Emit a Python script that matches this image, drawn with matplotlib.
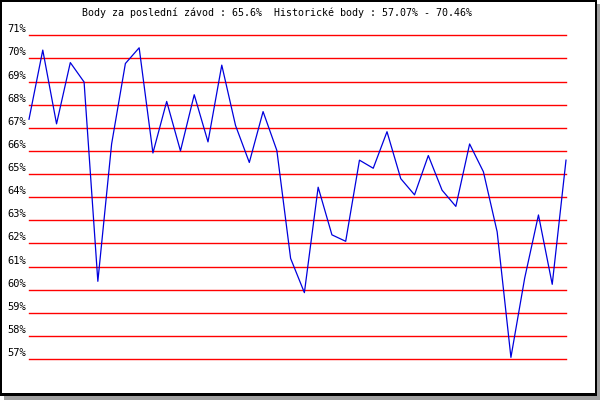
import matplotlib
matplotlib.use("Agg")
import matplotlib.pyplot as plt
from matplotlib.patches import Rectangle

# points per race
points = [67.37, 70.36, 67.17, 69.82, 68.98, 60.36, 66.3, 69.78, 70.46, 65.91,
          68.14, 66.0, 68.43, 66.39, 69.71, 67.1, 65.5, 67.7, 66.02, 61.35,
          59.87, 64.43, 62.37, 62.09, 65.6, 65.25, 66.83, 64.8, 64.1, 65.8,
          64.3, 63.6, 66.3, 65.1, 62.5, 57.07, 60.5, 63.23, 60.23, 65.6]
grid_levels = list(range(57, 72))
last_label = "Body za poslední závod"
hist_label = "Historické body"
last_value = 65.6
hist_min = 57.07
hist_max = 70.46

W, H = 600, 400
fig = plt.figure(figsize=(W / 100, H / 100), dpi=100)

# frame with drop shadow, in pixel coordinates
bg = fig.add_axes([0, 0, 1, 1])
bg.set_xlim(0, W)
bg.set_ylim(H, 0)
bg.axis("off")
bg.add_patch(Rectangle((4, 4), W - 4, H - 4, facecolor="#a0a0a0", edgecolor="none"))
bg.add_patch(Rectangle((0, 0), 597, 396, facecolor="black", edgecolor="none"))
bg.add_patch(Rectangle((2, 2), 593, 391, facecolor="white", edgecolor="none"))

title = f"{last_label} : {last_value}%  {hist_label} : {hist_min}% - {hist_max}%"
bg.text(277, 13, title, ha="center", va="center", fontsize=7.2,
        family="DejaVu Sans Mono", color="black")

# plot area
x0, x1 = 29, 566
y_top, y_bot = 35.3, 359
ax = fig.add_axes([x0 / W, (H - y_bot) / H, (x1 - x0) / W, (y_bot - y_top) / H])
ax.set_xlim(0, len(points) - 1)
ax.set_ylim(min(grid_levels), max(grid_levels))
ax.axis("off")

for lvl in grid_levels:
    ax.axhline(lvl, color="red", lw=1.0, zorder=1, clip_on=False)
    ax.annotate(f"{lvl}%", xy=(0, lvl), xycoords=("axes fraction", "data"),
                xytext=(-3, 1), textcoords="offset pixels", ha="right", va="bottom",
                fontsize=7.5, family="DejaVu Sans Mono", color="black")

ax.plot(range(len(points)), points, color="#0000dd", lw=0.9, zorder=2,
        clip_on=False)

fig.savefig("out.png", dpi=100)
